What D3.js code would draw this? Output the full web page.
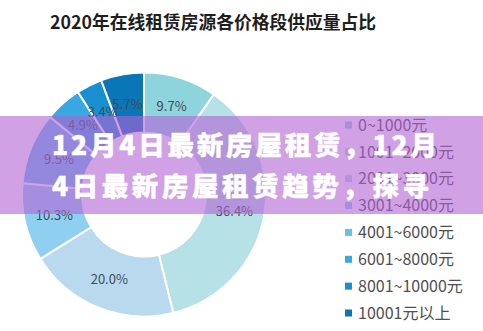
<!DOCTYPE html>
<html>
<head>
<meta charset="utf-8">
<script src="https://cdn.jsdelivr.net/npm/d3@7"></script>
<style>
  html, body { margin: 0; padding: 0; background: #fff; }
  svg { display: block; font-family: "Noto Sans CJK SC", "Noto Sans", sans-serif; }
</style>
</head>
<body>
<svg id="chart" width="483" height="331"></svg>
<script>
// Price bands and their share of supply (%)
const categories = ["0~1000元", "1001~2000元", "2001~3000元", "3001~4000元",
                    "4001~6000元", "6001~8000元", "8001~10000元", "10001元以上"];
const shares = [9.7, 36.4, 20.0, 10.3, 9.5, 4.9, 3.4, 5.7];
const colors = ["#8dd4dc", "#b6e2e7", "#b9d9ee", "#8fd0f0",
                "#66c0ea", "#37a8e0", "#1a8fcf", "#0b76b7"];

const title = "2020年在线租赁房源各价格段供应量占比";
const bannerLines = ["12月4日最新房屋租赁，12月", "4日最新房屋租赁趋势，探寻"];

const svg = d3.select("#chart");

// Title
svg.append("text")
  .attr("x", 50).attr("y", 29)
  .attr("font-size", 18).attr("font-weight", 700)
  .attr("fill", "#1e1e1e")
  .attr("textLength", 326).attr("lengthAdjust", "spacingAndGlyphs")
  .text(title);

// Donut
const cx = 144, cy = 194.5, rOuter = 122, rInner = 62;
const data = categories.map((c, i) => ({ name: c, value: shares[i], color: colors[i] }));
const pie = d3.pie().value(d => d.value).sort(null);
const arc = d3.arc().innerRadius(rInner).outerRadius(rOuter);
const labelArc = d3.arc().innerRadius((rInner + rOuter) / 2).outerRadius((rInner + rOuter) / 2);

const g = svg.append("g").attr("transform", `translate(${cx},${cy})`);
const arcs = pie(data);
g.selectAll("path").data(arcs).join("path")
  .attr("d", arc)
  .attr("fill", d => d.data.color)
  .attr("stroke", "#fff").attr("stroke-width", 2);

g.selectAll("text").data(arcs).join("text")
  .attr("transform", d => `translate(${labelArc.centroid(d)})`)
  .attr("text-anchor", "middle").attr("dy", "0.36em")
  .attr("font-size", 13).attr("fill", "#444b55")
  .text(d => d.data.value.toFixed(1) + "%");

// Legend
const legendY = d3.scalePoint().domain(categories).range([125, 313]);
const legend = svg.append("g");
const items = legend.selectAll("g").data(data).join("g")
  .attr("transform", d => `translate(345,${legendY(d.name)})`);
items.append("rect").attr("x", 0).attr("y", -3.5).attr("width", 7).attr("height", 7)
  .attr("fill", d => d.color);
items.append("text").attr("x", 13).attr("dy", "0.36em")
  .attr("font-size", 16).attr("fill", "#505050")
  .text(d => d.name);

// Headline banner across the chart
svg.append("rect")
  .attr("x", 0).attr("y", 116).attr("width", 483).attr("height", 98)
  .attr("fill", "rgb(178,98,214)").attr("fill-opacity", 0.6);

const bannerY = [155, 196];
svg.selectAll("text.banner").data(bannerLines).join("text")
  .attr("class", "banner")
  .attr("x", 52).attr("y", (d, i) => bannerY[i])
  .attr("font-size", 26.5).attr("font-weight", 900)
  .attr("fill", "#fff")
  .attr("stroke", "#fff").attr("stroke-width", 0.4)
  .attr("textLength", (d, i) => i === 0 ? 385 : 377)
  .attr("lengthAdjust", "spacing")
  .text(d => d);
</script>
</body>
</html>
